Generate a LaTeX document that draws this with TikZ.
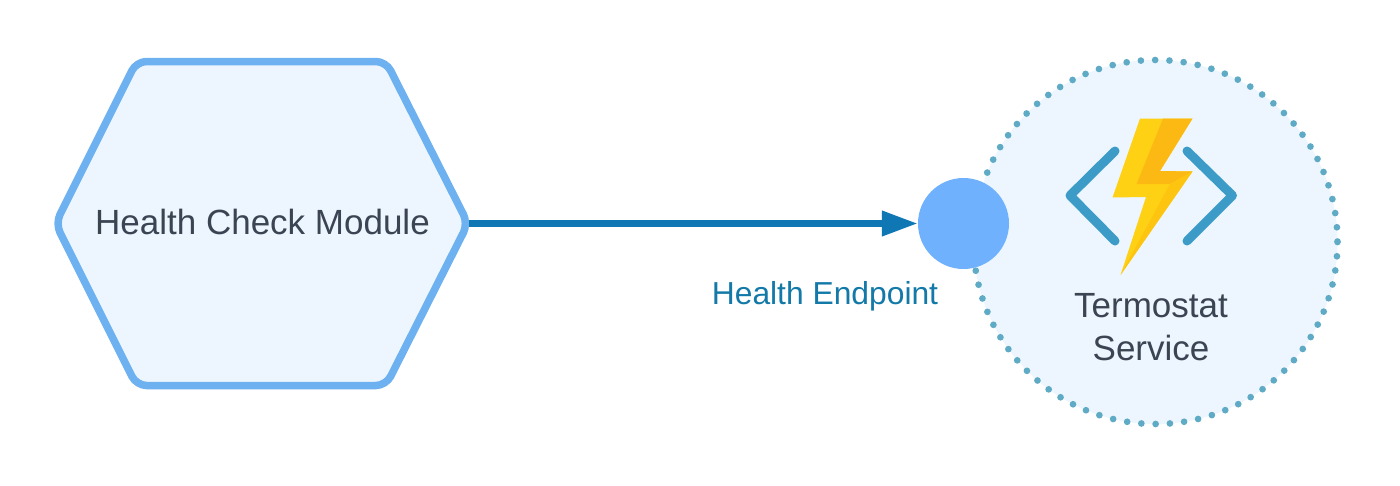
\documentclass[tikz,border=0pt]{standalone}
\usepackage{fontspec}
\setmainfont{Liberation Sans}
\usetikzlibrary{arrows.meta,positioning}

\definecolor{hexline}{HTML}{6DB1F0}
\definecolor{hexfill}{HTML}{EDF6FE}
\definecolor{dotline}{HTML}{5FABC6}
\definecolor{endfill}{HTML}{6FB1FC}
\definecolor{flowblue}{HTML}{0F78B4}
\definecolor{labelblue}{HTML}{1279A8}
\definecolor{inktext}{HTML}{3A4452}
\definecolor{codeblue}{HTML}{3D9CC7}
\definecolor{boltlight}{HTML}{FFD115}
\definecolor{boltmid}{HTML}{FDC50F}
\definecolor{boltdark}{HTML}{FDB913}

\tikzset{
	nametext/.style={text=inktext,font=\fontsize{35}{43}\selectfont,align=center,inner sep=0},
	endpoint/.style={circle,fill=endfill,minimum size=91,inner sep=0},
	chevron/.style={draw=codeblue,line width=9,line cap=round,line join=round}
}

\begin{document}
\begin{tikzpicture}[x=1pt,y=-1pt,>={Triangle[length=36,width=24]}]

\useasboundingbox (0,0) rectangle (1400,485);

% service circle
\draw [fill=hexfill,draw=dotline,line width=6.7,line cap=round,dash pattern=on 0pt off 14.29pt] (1155.5,242) circle [radius=182];

% module hexagon
\draw [fill=hexfill,draw=hexline,line width=7.5,rounded corners=10]
	(55.5,223.5) -- (136.5,61.5) -- (386,61.5) -- (468,223.5) -- (386,385.5) -- (136.5,385.5) -- cycle;
\coordinate (hexright) at (469,223.5);
\node [nametext] (module) at (262.5,222) {Health Check Module};

\node [endpoint] (health) at (963.5,223.5) {};
\node [text=labelblue,font=\fontsize{31.8}{38}\selectfont,inner sep=0] (healthlabel) at (825,296) {Health Endpoint};

\draw [->,draw=flowblue,line width=7] (hexright) -- (health);

% icon
\draw [chevron] (1115,151) -- (1070,195.5) -- (1115,241);
\draw [chevron] (1187,151) -- (1232.5,195.5) -- (1187,241);

\fill [boltlight] (1140,118.5) -- (1192.5,118.5) -- (1160,171) -- (1192.5,171.5) -- (1120.5,275) -- (1146,197) -- (1112.5,197.5) -- cycle;
\fill [boltdark] (1163,118.5) -- (1192.5,118.5) -- (1160,171) -- (1192.5,171.5) -- (1170,184) -- (1136.5,184) -- cycle;
\fill [boltmid] (1170,184) -- (1192.5,171.5) -- (1120.5,275) -- cycle;

\node [nametext] (service) at (1151,327.5) {Termostat\\Service};

\end{tikzpicture}
\end{document}
